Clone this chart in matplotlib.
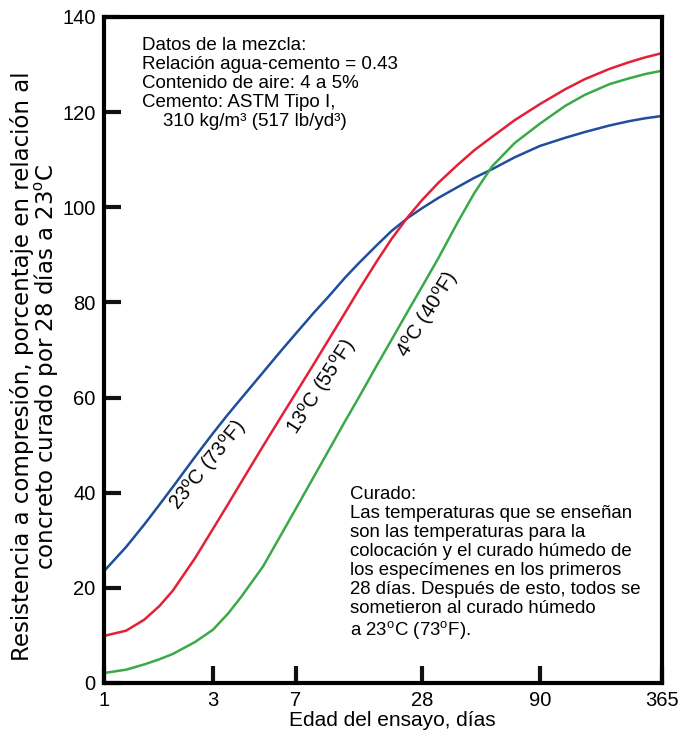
import numpy as np
import matplotlib
matplotlib.use("Agg")
import matplotlib.pyplot as plt

plt.rcParams['font.family'] = ['Liberation Sans', 'DejaVu Sans']
plt.rcParams['mathtext.fontset'] = 'custom'
plt.rcParams['mathtext.rm'] = 'Liberation Sans'

# Edad del ensayo (dias) y resistencia relativa (%)
dias = [1, 1.25, 1.5, 1.75, 2, 2.5, 3, 3.5, 4, 5, 6, 7, 8.5, 10, 12, 14, 17, 20,
        24, 28, 33, 40, 47, 56, 70, 90, 120, 150, 200, 250, 300, 365]
r_23c = [23.5, 28.6, 33.3, 37.5, 41.2, 47.5, 52.5, 56.5, 59.8, 65.3, 69.8, 73.5,
         77.8, 81.2, 85.2, 88.3, 92.0, 95.0, 97.8, 99.8, 102.0, 104.3, 106.2, 108.0,
         110.5, 112.9, 114.6, 115.8, 117.2, 118.1, 118.7, 119.2]
r_13c = [9.9, 11.0, 13.3, 16.2, 19.4, 26.2, 32.4, 37.6, 42.2, 49.8, 55.9, 61.0,
         67.0, 72.1, 77.8, 82.7, 88.6, 93.3, 98.0, 101.5, 105.2, 109.0, 112.0, 114.8,
         118.3, 121.7, 124.8, 126.9, 129.1, 130.5, 131.5, 132.4]
r_4c = [2.1, 2.8, 3.9, 5.0, 6.1, 8.6, 11.2, 14.6, 18.1, 24.5, 31.1, 36.7,
        43.3, 48.8, 55.0, 60.1, 66.7, 72.1, 78.2, 83.3, 89.4, 97.0, 103.0, 108.6,
        113.5, 117.6, 121.3, 123.6, 125.9, 127.1, 128.0, 128.7]

ticks_x = [1, 3, 7, 28, 90, 365]
ticks_y = [0, 20, 40, 60, 80, 100, 120, 140]

# posicion relativa de cada marca en el eje (la escala original no es log exacta)
pos_marcas = [0.0, 0.1953, 0.3441, 0.5699, 0.7814, 1.0]
log_marcas = np.log10(ticks_x)

def directa(x):
    x = np.clip(np.asarray(x, dtype=float), 1e-6, None)
    return np.interp(np.log10(x), log_marcas, pos_marcas)

def inversa(p):
    return 10 ** np.interp(p, pos_marcas, log_marcas)

azul = '#1f4e9c'
rojo = '#e41f36'
verde = '#3aaa48'

fig = plt.figure(figsize=(6.81, 7.36), dpi=100)
ax = fig.add_axes([104/681, 1-683/736, 558/681, 666/736])

ax.plot(dias, r_23c, color=azul, lw=1.8)
ax.plot(dias, r_13c, color=rojo, lw=1.8)
ax.plot(dias, r_4c, color=verde, lw=1.8)

ax.set_xscale('function', functions=(directa, inversa))
ax.set_xlim(1, 365)
ax.set_ylim(0, 140)
ax.set_xticks(ticks_x)
ax.set_xticklabels([str(t) for t in ticks_x])
ax.xaxis.set_minor_locator(matplotlib.ticker.NullLocator())
ax.set_yticks(ticks_y)

for s in ax.spines.values():
    s.set_linewidth(3)
ax.tick_params(direction='in', length=12, width=3, labelsize=14.5, color='#111111')
ax.tick_params(axis='x', pad=6)
ax.tick_params(axis='y', pad=6)

ax.set_xlabel('Edad del ensayo, días', fontsize=15)
ax.xaxis.set_label_coords(0.516, -0.042)

ax.set_ylabel('Resistencia a compresión, porcentaje en relación al\n'
              'concreto curado por 28 días a 23$^{\\rm o}$C',
              fontsize=16.5, family='DejaVu Sans', linespacing=0.92)
ax.yaxis.label.set_va('center')
ax.yaxis.set_label_coords(-0.124, 0.475)

# etiquetas de cada curva
ax.text(2.85, 45.8, '23$^{\\rm o}$C (73$^{\\rm o}$F)', rotation=51,
        ha='center', va='center', fontsize=14.5)
ax.text(9.3, 62.2, '13$^{\\rm o}$C (55$^{\\rm o}$F)', rotation=57,
        ha='center', va='center', fontsize=14.5)
ax.text(29.7, 77.4, '4$^{\\rm o}$C (40$^{\\rm o}$F)', rotation=58,
        ha='center', va='center', fontsize=14.5)

ax.text(0.068, 0.970,
        'Datos de la mezcla:\n'
        'Relación agua-cemento = 0.43\n'
        'Contenido de aire: 4 a 5%\n'
        'Cemento: ASTM Tipo I,\n'
        '    310 kg/m³ (517 lb/yd³)',
        transform=ax.transAxes, ha='left', va='top', fontsize=13.5, linespacing=1.15)

ax.text(0.441, 0.296,
        'Curado:\n'
        'Las temperaturas que se enseñan\n'
        'son las temperaturas para la\n'
        'colocación y el curado húmedo de\n'
        'los especímenes en los primeros\n'
        '28 días. Después de esto, todos se\n'
        'sometieron al curado húmedo\n'
        'a 23$^{\\rm o}$C (73$^{\\rm o}$F).',
        transform=ax.transAxes, ha='left', va='top', fontsize=13.4, linespacing=1.15)

fig.savefig('out.png', dpi=100)
